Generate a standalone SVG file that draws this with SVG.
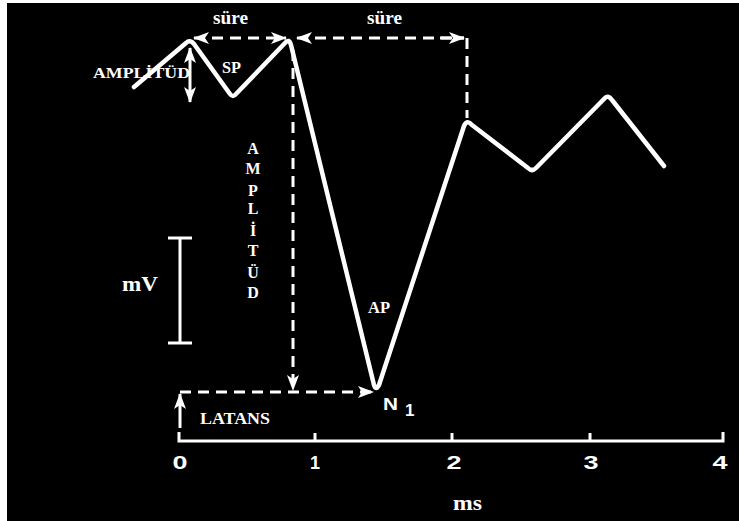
<svg xmlns="http://www.w3.org/2000/svg" width="739" height="521" viewBox="0 0 739 521">
<defs>
<style>
.wave{fill:none;stroke:#fff;stroke-width:4.5;stroke-linejoin:round;stroke-linecap:round}
.dash{fill:none;stroke:#fff;stroke-width:3;stroke-dasharray:11 7}
.solid{fill:none;stroke:#fff;stroke-width:3}
.ser{font-family:"Liberation Serif","Times New Roman",serif;font-weight:bold;fill:#fff}
.san{font-family:"Liberation Sans",Arial,sans-serif;font-weight:bold;fill:#fff}
</style>
<marker id="ah" markerUnits="userSpaceOnUse" markerWidth="16" markerHeight="12" refX="15" refY="6" orient="auto-start-reverse" viewBox="0 0 16 12">
<path d="M0,0 L16,6 L0,12 L4,6 Z" fill="#fff"/>
</marker>
</defs>
<rect width="739" height="521" fill="#fff"/>
<rect x="7" y="3" width="732" height="518" fill="#000"/>

<g id="waveform">
<path class="wave" d="M134,87 L186,43 Q190,39 194,44 L230,94 Q233,98 236,94 L285,43 Q289,38 291,45 L374,385 Q376,391 379,385 L464,126 Q467,119 472,125 L528,168 Q532,172 536,168 L604,99 Q608,94 612,100 L664,166"/>
</g>

<g id="connectors">
<line class="dash" x1="194" y1="38" x2="286" y2="38" marker-start="url(#ah)" marker-end="url(#ah)"/>
<line class="dash" x1="297" y1="38" x2="464" y2="38" marker-start="url(#ah)"/>
<line class="dash" x1="440" y1="38" x2="464" y2="38" marker-end="url(#ah)"/>
<line class="dash" x1="467" y1="38" x2="467" y2="118"/>
<line class="dash" x1="293" y1="50" x2="293" y2="390" marker-end="url(#ah)"/>
<line class="dash" x1="180" y1="392" x2="373" y2="392" marker-end="url(#ah)"/>
<line class="solid" x1="190" y1="48" x2="190" y2="102" marker-start="url(#ah)" marker-end="url(#ah)"/>
<line class="solid" x1="180" y1="428" x2="180" y2="394" marker-end="url(#ah)"/>
</g>

<g id="scale-bar">
<line class="solid" x1="180" y1="238" x2="180" y2="343"/>
<line class="solid" x1="168" y1="238" x2="192" y2="238"/>
<line class="solid" x1="168" y1="343" x2="192" y2="343"/>
<text class="ser" x="122" y="291" font-size="21" textLength="36" lengthAdjust="spacingAndGlyphs">mV</text>
</g>

<g id="axis">
<polyline class="solid" points="179,432 179,441 723,441 723,432"/>
<line class="solid" x1="315" y1="433" x2="315" y2="441"/>
<line class="solid" x1="452" y1="433" x2="452" y2="441"/>
<line class="solid" x1="590" y1="433" x2="590" y2="441"/>
<g class="san" font-size="18" text-anchor="middle">
<text x="180" y="469" textLength="15" lengthAdjust="spacingAndGlyphs">0</text>
<text x="315" y="469">1</text>
<text x="454" y="469" textLength="15" lengthAdjust="spacingAndGlyphs">2</text>
<text x="591" y="469" textLength="15" lengthAdjust="spacingAndGlyphs">3</text>
<text x="720" y="469" textLength="15" lengthAdjust="spacingAndGlyphs">4</text>
</g>
<text class="ser" x="453" y="510" font-size="21" textLength="29" lengthAdjust="spacingAndGlyphs">ms</text>
</g>

<g id="labels">
<text class="ser" x="213" y="24" font-size="18" textLength="35" lengthAdjust="spacingAndGlyphs">süre</text>
<text class="ser" x="367" y="24" font-size="18" textLength="35" lengthAdjust="spacingAndGlyphs">süre</text>
<text class="ser" x="93" y="78" font-size="15" textLength="97" lengthAdjust="spacingAndGlyphs">AMPLİTÜD</text>
<text class="ser" x="222" y="73" font-size="16" textLength="19" lengthAdjust="spacingAndGlyphs">SP</text>
<text class="ser" x="368" y="313" font-size="16" textLength="22" lengthAdjust="spacingAndGlyphs">AP</text>
<text class="ser" x="200" y="424" font-size="16" textLength="70" lengthAdjust="spacingAndGlyphs">LATANS</text>
<g class="ser" font-size="16" text-anchor="middle">
<text x="253" y="154">A</text>
<text x="253" y="174">M</text>
<text x="253" y="196">P</text>
<text x="253" y="214">L</text>
<text x="253" y="236">İ</text>
<text x="253" y="256">T</text>
<text x="253" y="278">Ü</text>
<text x="253" y="298">D</text>
</g>
<text class="san" x="383" y="410" font-size="17" textLength="15" lengthAdjust="spacingAndGlyphs">N</text>
<text class="san" x="405" y="416" font-size="17">1</text>
</g>
</svg>
